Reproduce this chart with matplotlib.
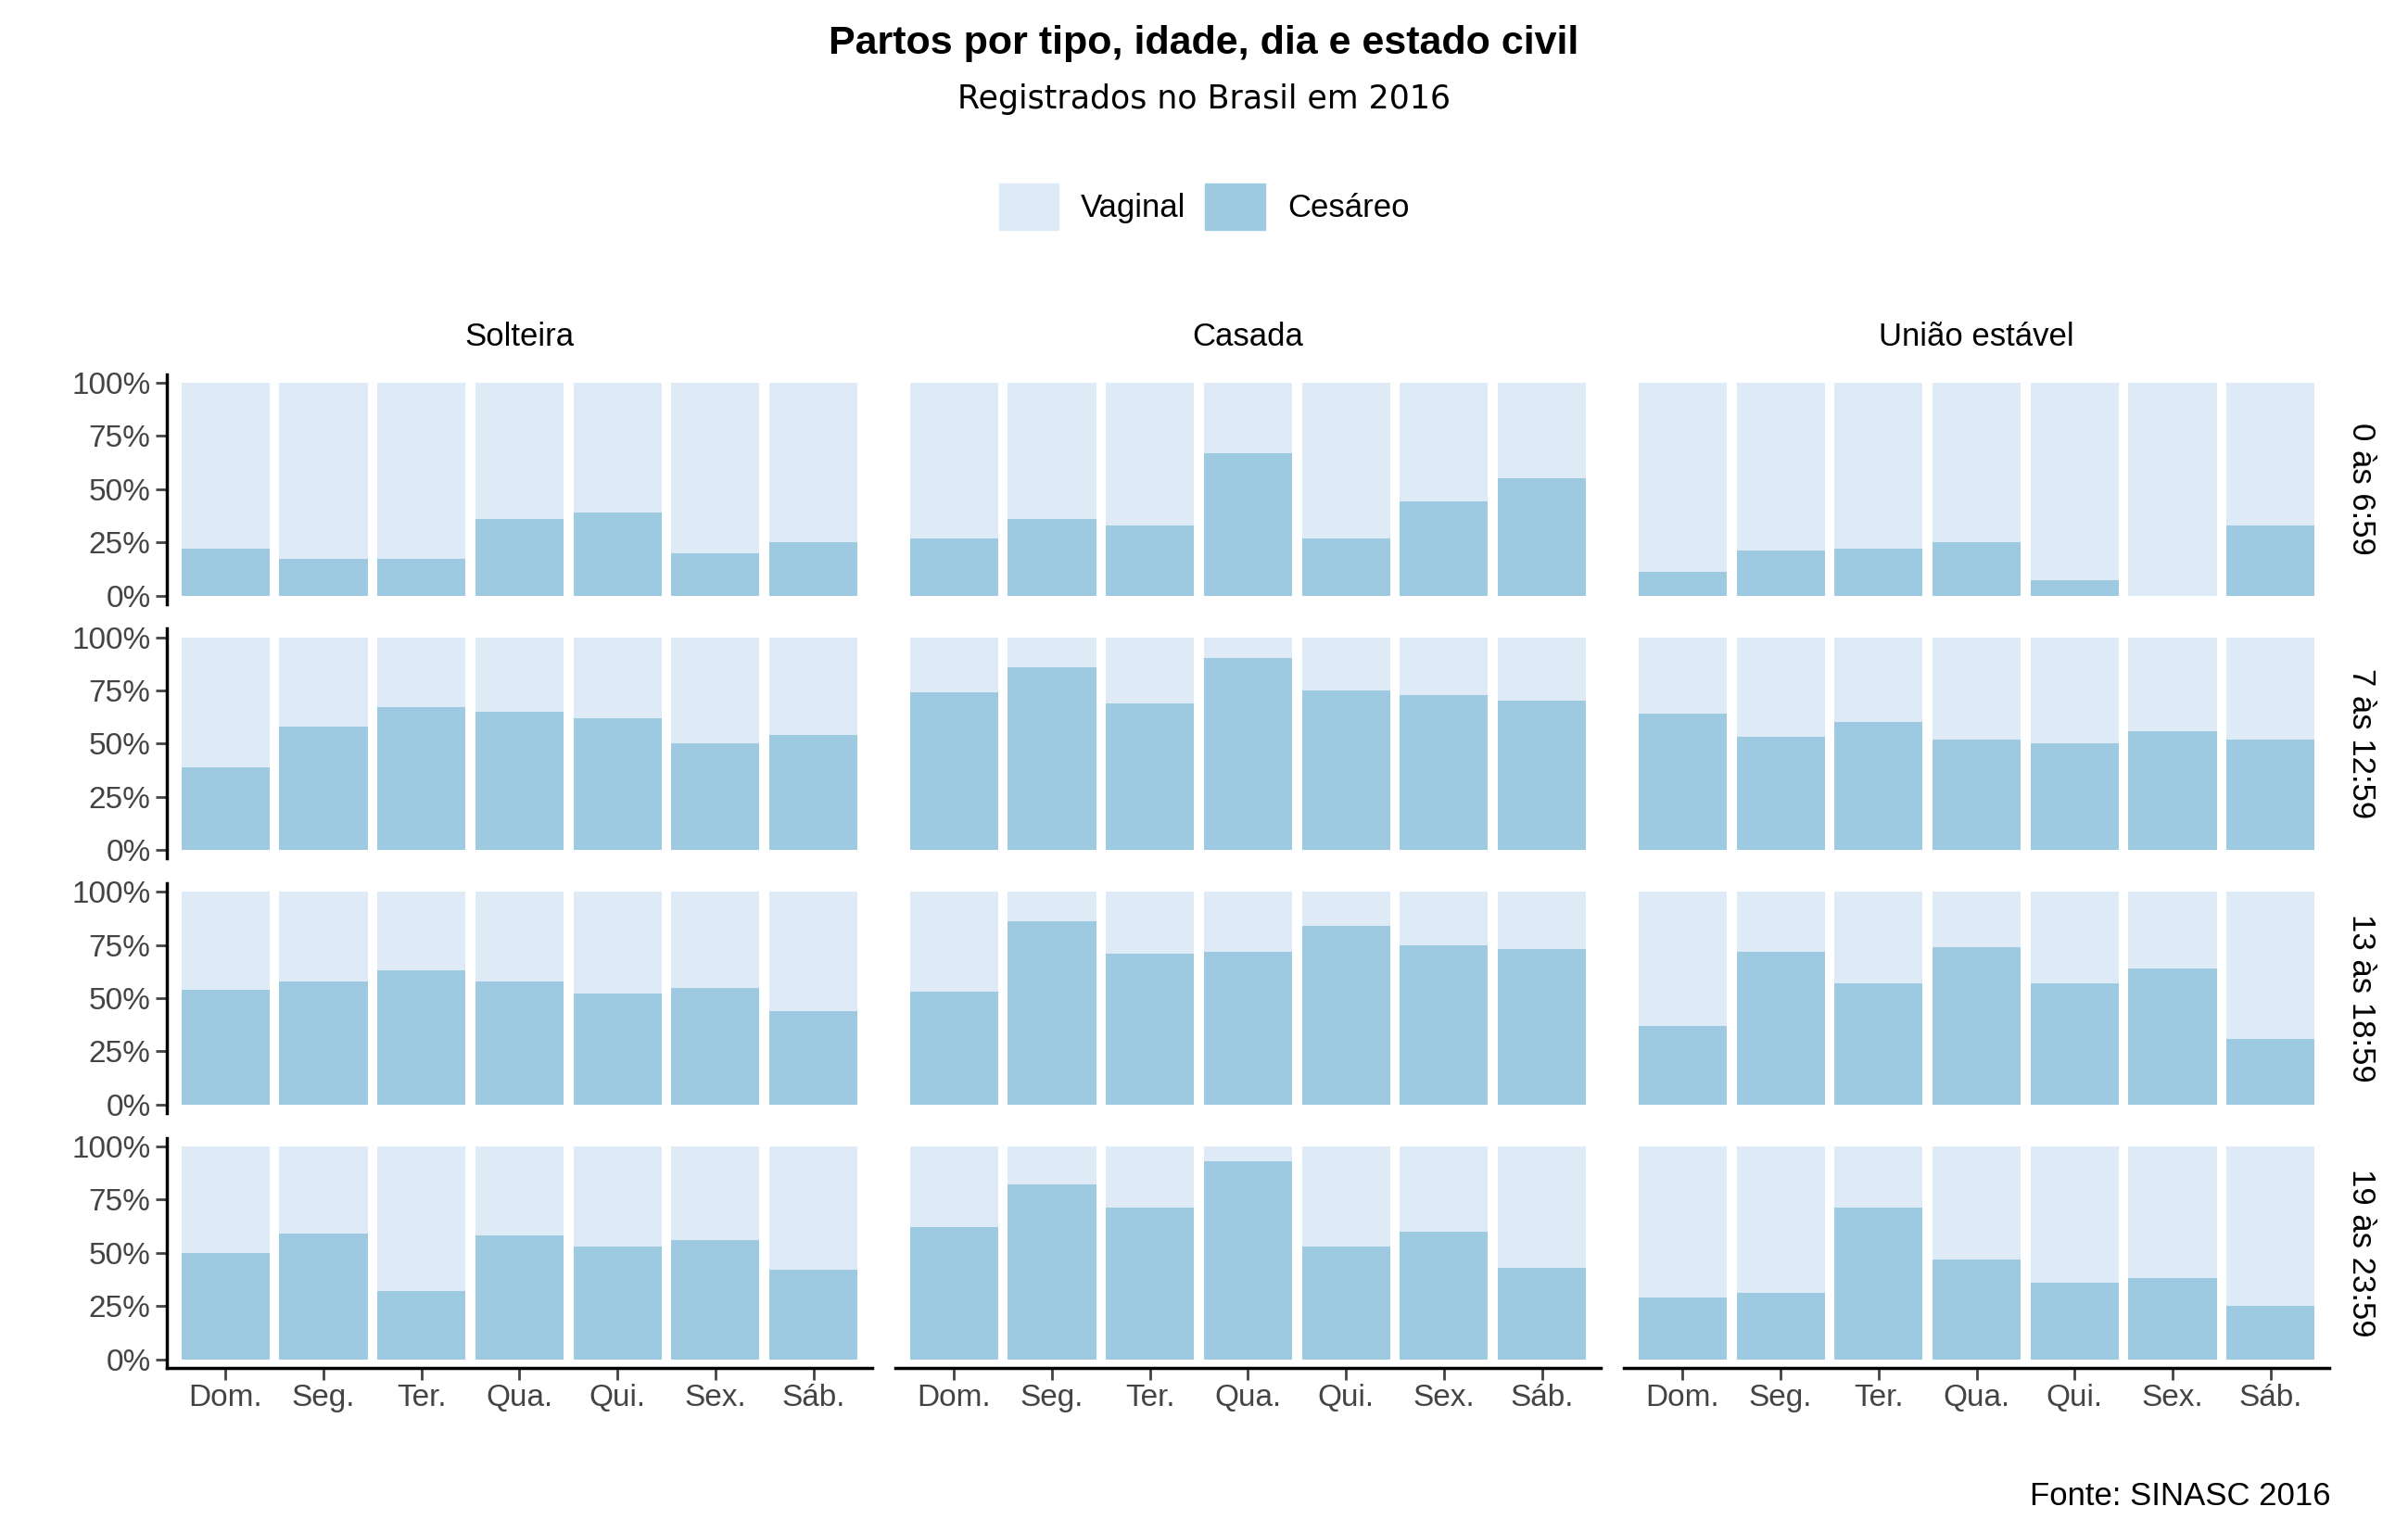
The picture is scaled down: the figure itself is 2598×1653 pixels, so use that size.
import matplotlib.pyplot as plt
from matplotlib.patches import Patch

plt.rcParams['font.family'] = ['Liberation Sans', 'DejaVu Sans']

dias = ["Dom.", "Seg.", "Ter.", "Qua.", "Qui.", "Sex.", "Sáb."]
estados = ["Solteira", "Casada", "União estável"]
horarios = ["0 às 6:59", "7 às 12:59", "13 às 18:59", "19 às 23:59"]

# % cesáreo [horario][estado][dia]
cesareo = [
    [[22, 17, 17, 36, 39, 20, 25],
     [27, 36, 33, 67, 27, 44, 55],
     [11, 21, 22, 25, 7, 0, 33]],
    [[39, 58, 67, 65, 62, 50, 54],
     [74, 86, 69, 90, 75, 73, 70],
     [64, 53, 60, 52, 50, 56, 52]],
    [[54, 58, 63, 58, 52, 55, 44],
     [53, 86, 71, 72, 84, 75, 73],
     [37, 72, 57, 74, 57, 64, 31]],
    [[50, 59, 32, 58, 53, 56, 42],
     [62, 82, 71, 93, 53, 60, 43],
     [29, 31, 71, 47, 36, 38, 25]],
]

c_vag = "#deebf7"
c_ces = "#9ecae1"

W, H = 1560.0, 993.0
fig = plt.figure(figsize=(25.98, 16.53), dpi=100)

col_x = [108, 580, 1052]
pw = 457
row_top = [242.5, 407.5, 572.5, 737.5]
ph = 149

for r in range(4):
    for c in range(3):
        ax = fig.add_axes([col_x[c] / W, 1 - (row_top[r] + ph) / H, pw / W, ph / H])
        vals = [v / 100 for v in cesareo[r][c]]
        x = range(7)
        ax.bar(x, [1] * 7, width=0.9, color=c_vag)
        ax.bar(x, vals, width=0.9, color=c_ces)
        ax.set_xlim(-0.6, 6.6)
        ax.set_ylim(-0.04, 1.04)
        for s in ["top", "right"]:
            ax.spines[s].set_visible(False)
        ax.spines["left"].set_linewidth(2.5)
        ax.spines["bottom"].set_linewidth(2.5)
        ax.tick_params(labelsize=24, colors="#444444", width=2, length=9)
        ax.tick_params(axis="x", labelcolor="#444444")
        ax.set_yticks([0, 0.25, 0.5, 0.75, 1])
        if c == 0:
            ax.set_yticklabels(["0%", "25%", "50%", "75%", "100%"])
        else:
            ax.spines["left"].set_visible(False)
            ax.tick_params(axis="y", left=False, labelleft=False)
        ax.set_xticks(list(x))
        if r == 3:
            ax.set_xticklabels(dias)
        else:
            ax.spines["bottom"].set_visible(False)
            ax.tick_params(axis="x", bottom=False, labelbottom=False)
        if r == 0:
            ax.set_title(estados[c], fontsize=25, pad=22)
        if c == 2:
            ax.text(1.045, 0.5, horarios[r], transform=ax.transAxes, rotation=-90,
                    ha="center", va="center", fontsize=25)

fig.text(0.5, 1 - 28 / H, "Partos por tipo, idade, dia e estado civil",
         ha="center", va="center", fontsize=31, fontweight="bold")
fig.text(0.5, 1 - 64 / H, "Registrados no Brasil em 2016",
         ha="center", va="center", fontsize=25, family=["DejaVu Sans"])
handles = [Patch(color=c_vag, label="Vaginal"), Patch(color=c_ces, label="Cesáreo")]
fig.legend(handles=handles, loc="center", bbox_to_anchor=(0.5, 1 - 134 / H), ncol=2,
           frameon=False, fontsize=25, handlelength=1.85, handleheight=1.85,
           handletextpad=0.7, columnspacing=0.6)
fig.text(1510 / W, 1 - 970 / H, "Fonte: SINASC 2016", ha="right", va="center", fontsize=25)

fig.savefig("out.png", dpi=100)
